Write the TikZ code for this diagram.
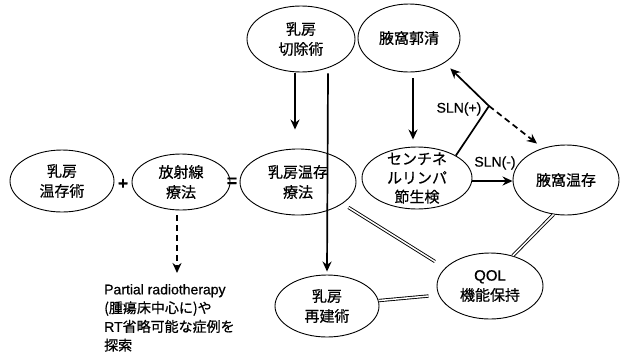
\documentclass[tikz,border=0pt]{standalone}
\usepackage{fontspec}
\setmainfont{Liberation Sans}[FakeBold=0.6]
\newfontfamily\jp{Noto Sans CJK JP}[FakeBold=0.6]
\usetikzlibrary{shapes.geometric,arrows.meta,calc}
\begin{document}
\begin{tikzpicture}[x=1pt,y=-1pt,
  ell/.style={draw,ellipse,line width=0.9pt,inner sep=0pt},
  etxt/.style={inner sep=0pt,align=center,font=\jp\fontsize{15}{20}\selectfont},
  arr/.style={line width=1.7pt,-{Stealth[length=10pt,width=9pt]}},
  darr/.style={arr,dash pattern=on 6pt off 4pt},
  dbl/.style={double,double distance=1.5pt,line width=0.9pt},
  lbl/.style={inner sep=0pt,font=\fontsize{14}{16}\selectfont},
  op/.style={inner sep=0pt,font=\bfseries\fontsize{17}{17}\selectfont}]
\useasboundingbox (0,0) rectangle (620,362);
\fill[white] (0,0) rectangle (620,362);

% ellipses
\node[ell,minimum width=104pt,minimum height=62pt] (bct) at (62,181) {};
\node[etxt] (bctT) at (bct) {乳房\\温存術};
\node[ell,minimum width=98pt,minimum height=56pt] (rad) at (181,182) {};
\node[etxt] (radT) at (rad) {放射線\\療法};
\node[ell,minimum width=116pt,minimum height=66pt] (bcs) at (298,182) {};
\node[etxt] (bcsT) at (bcs) {乳房温存\\療法};
\node[ell,minimum width=108pt,minimum height=66pt] (mast) at (301,39) {};
\node[etxt] (mastT) at (mast) {乳房\\切除術};
\node[ell,minimum width=102pt,minimum height=68pt] (axd) at (409,38) {};
\node[etxt] (axdT) at (axd) {腋窩郭清};
\node[ell,minimum width=110pt,minimum height=62pt] (sln) at (417,178) {};
\node[etxt,font=\jp\fontsize{15}{19}\selectfont] (slnT) at (sln) {センチネ\\ルリンパ\\節生検};
\node[ell,minimum width=106pt,minimum height=70pt] (axp) at (566,180) {};
\node[etxt] (axpT) at (axp) {腋窩温存};
\node[ell,minimum width=106pt,minimum height=66pt] (qol) at (490,286) {};
\node[etxt] (qolT) at (qol) {{\rmfamily QOL}\\機能保持};
\node[ell,minimum width=104pt,minimum height=62pt] (rec) at (327,306) {};
\node[etxt] (recT) at (rec) {乳房\\再建術};

% operators
\node[op] (plus) at (123,184) {+};
\node[op] (eq) at (232,182) {=};

% note
\node[anchor=north west,inner sep=0pt,align=left,font=\fontsize{14}{18.7}\selectfont] (note) at (104,284)
  {Partial radiotherapy\\{\jp (腫瘍床中心に)や}\\RT{\jp 省略可能な症例を}\\{\jp 探索}};

% labels
\node[lbl] (slnp) at (459,109) {SLN(+)};
\node[lbl] (slnm) at (495,163) {SLN(-)};

% arrows
\draw[arr] ([xshift=-6pt,yshift=-1pt]mast.south) -- ([xshift=-3pt,yshift=19pt]bcs.north);
\draw[arr] ([xshift=27pt,yshift=-1pt]mast.south) -- ([yshift=3pt]rec.north);
\draw[arr] ([xshift=4pt,yshift=-6pt]axd.south) -- ([xshift=-4pt,yshift=7pt]sln.north);
\coordinate (j) at (489,106);
\draw[arr,shorten >=8pt] (sln.30) -- (j) -- (axd.-35);
\draw[darr] (j) -- ([xshift=-29pt,yshift=1pt]axp.north);
\draw[arr] ([yshift=-3pt]sln.east) -- ([yshift=-1pt]axp.west);
\draw[darr,shorten >=11pt] ([xshift=-4pt,yshift=-5pt]rad.south) -- ([xshift=-4pt]rad.south |- note.north);

% double lines
\draw[dbl,shorten <=7pt,shorten >=12pt] (bcs.-26) -- (qol.158);
\draw[dbl] (axp.-110) -- (qol.53);
\draw[dbl,shorten >=10pt] (rec.6) -- (qol.190);
\end{tikzpicture}
\end{document}
